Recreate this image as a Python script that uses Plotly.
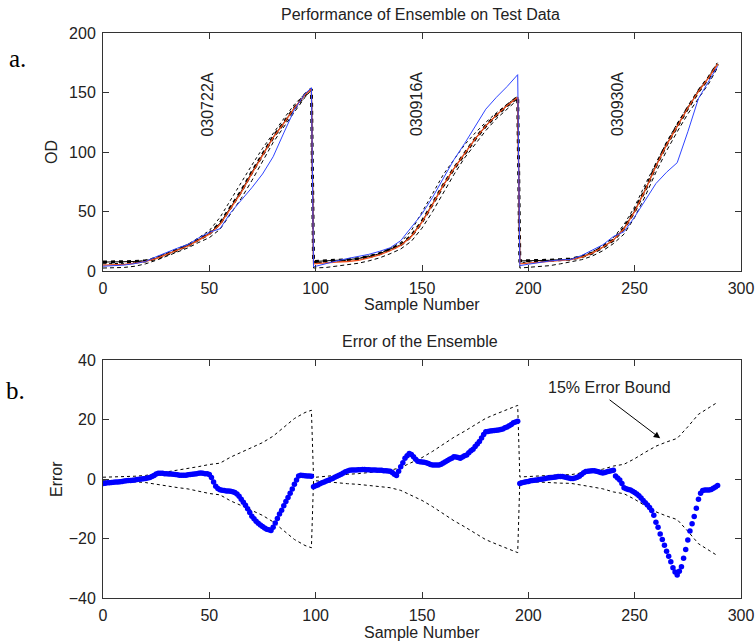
import plotly.graph_objects as go

# ---------------- data ----------------
# coarse sample grid for the curves of panel a (three test runs, concatenated)
X_RUN1 = [0, 5, 10, 15, 20, 25, 30, 35, 40, 45, 50, 55, 60, 65, 70, 75, 80, 85, 90, 95, 98]
X_RUN2 = [99, 105, 110, 115, 120, 125, 130, 135, 140, 145, 150, 155, 160, 165, 170, 175, 180, 185, 190, 195]
X_RUN3 = [196, 200, 205, 210, 215, 220, 225, 230, 235, 240, 245, 250, 255, 260, 265, 270, 275, 280, 285, 289]

# measured OD (blue)
ACTUAL_1 = [4, 4.2, 5, 6.2, 8, 12, 15.8, 19.2, 22.3, 27.8, 32.5, 35.5, 49, 59.5, 70, 81.5, 96, 116, 135.5, 149, 154]
ACTUAL_2 = [3.5, 6.5, 8.5, 10.5, 12, 14, 16.5, 19.5, 25.5, 37, 48, 62, 78, 93.5, 107, 122, 136, 146, 155, 165]
ACTUAL_3 = [4.5, 5.7, 7.3, 8.4, 9.3, 9.7, 13, 17.8, 22, 29, 33, 45.5, 60, 73.5, 83, 91, 117, 145, 160, 172]

# ensemble prediction (red)
ENSEMBLE_1 = [5, 5, 5.5, 6.5, 8, 10.5, 14, 17.5, 21, 26, 31, 39, 53, 66, 82, 97, 112, 124, 137, 148, 153]
ENSEMBLE_2 = [6, 7, 7.5, 8, 9, 11, 13.5, 17, 21.5, 29, 41, 56, 72, 86, 99, 111, 122, 131, 139, 146]
ENSEMBLE_3 = [6, 6.5, 7.5, 8, 8.5, 9.5, 11.5, 15, 20, 26, 35.5, 50, 68, 88, 106, 122, 137, 151, 163, 174]

# individual networks (black)
NET_A_1 = [7.5, 7.5, 7.5, 8, 8.5, 10.5, 14, 17.5, 21.5, 26.5, 31.5, 40, 54, 67, 83, 98, 112.5, 124.5, 137, 148, 153]
NET_A_2 = [8, 8.5, 9, 9.5, 10.5, 12, 14.5, 18, 22, 29.5, 41.5, 56.5, 72, 86, 99, 111, 122, 131, 139, 146]
NET_A_3 = [8.5, 8.5, 9, 9, 9.5, 10, 12, 15, 20, 26, 36, 50.5, 68.5, 88.5, 106.5, 122, 137, 151, 163, 174]

NET_B_1 = [6, 6, 6.5, 7.5, 9, 11.5, 15, 18.5, 22.5, 28, 34, 45, 60, 74, 89, 103, 116, 128, 140, 149, 153]
NET_B_2 = [7, 7.5, 8, 9, 10.5, 12.5, 15, 19, 24, 34, 49, 65, 81, 94, 106, 116, 125, 133, 140, 147]
NET_B_3 = [7, 7.5, 8, 8.5, 9, 10, 12.5, 16, 21.5, 28, 39, 54, 73, 91, 108, 124, 138, 152, 164, 175]

NET_C_1 = [2.5, 2.5, 3, 4, 6, 9, 12.5, 16, 19.5, 24, 28, 35, 48, 61, 76, 92, 108, 121, 134, 146, 152]
NET_C_2 = [2.5, 3, 4, 5, 6.5, 8.5, 11, 14.5, 18.5, 25, 36, 50, 66, 81, 95, 107, 118, 128, 136, 144]
NET_C_3 = [2.5, 3, 3.5, 4.5, 6, 7.5, 9.5, 12.5, 17, 23, 31, 45, 63, 83, 101, 117, 132, 145, 158, 171]

RUN_LABELS = ["030722A", "030916A", "030930A"]
RUN_LABEL_X = [49, 147.5, 242]
RUN_LABEL_Y = [140, 140, 140]

# ensemble error, one value per sample (panel b)
ERROR_RUN1 = [
    -1.5, -1.4, -1.3, -1.3, -1.2, -1.1, -1.0, -1.0, -0.9, -0.8,
    -0.7, -0.6, -0.5, -0.5, -0.4, -0.3, -0.2, -0.1, 0.0, 0.1,
    0.2, 0.3, 0.5, 0.8, 1.2, 1.7, 1.9, 1.9, 1.9, 1.8,
    1.8, 1.7, 1.7, 1.6, 1.5, 1.4, 1.3, 1.3, 1.3, 1.3,
    1.4, 1.5, 1.6, 1.7, 1.8, 1.9, 2.0, 1.9, 1.8, 1.8,
    1.5, 0.5, -1.0, -2.4, -3.2, -3.6, -3.8, -3.9, -4.0, -4.0,
    -4.1, -4.3, -4.5, -5.0, -5.8, -6.8, -7.8, -8.8, -10.0, -11.3,
    -12.5, -13.4, -14.2, -14.9, -15.5, -16.0, -16.5, -16.9, -17.1, -17.3,
    -16.2, -14.8, -13.3, -11.8, -10.5, -9.0, -7.6, -6.2, -4.8, -3.4,
    -1.8, -0.3, 1.0, 1.3, 1.2, 1.1, 1.0, 1.0, 0.9,
]
ERROR_RUN2 = [
    -2.6, -2.3, -2.0, -1.6, -1.3, -1.0, -0.7, -0.4, -0.1, 0.2,
    0.6, 0.9, 1.3, 1.6, 2.0, 2.4, 2.7, 2.9, 3.0, 3.0,
    3.0, 3.1, 3.1, 3.2, 3.2, 3.1, 3.1, 3.0, 3.0, 3.0,
    2.9, 2.9, 2.9, 2.8, 2.8, 2.7, 2.6, 2.2, 1.6, 1.2,
    2.6, 4.1, 5.5, 7.0, 7.8, 8.6, 8.2, 7.5, 6.6, 6.0,
    5.8, 5.7, 5.6, 5.5, 5.2, 4.9, 4.7, 4.7, 4.7, 4.7,
    5.0, 5.4, 5.8, 6.2, 6.6, 7.0, 7.5, 7.4, 7.2, 7.0,
    7.4, 7.8, 8.1, 8.8, 9.5, 10.0, 10.9, 11.8, 12.6, 13.8,
    15.0, 15.9, 16.0, 16.1, 16.2, 16.3, 16.4, 16.5, 16.6, 16.8,
    17.2, 17.5, 17.9, 18.3, 18.9, 19.2, 19.4,
]
ERROR_RUN3 = [
    -1.5, -1.3, -1.1, -0.9, -0.8, -0.6, -0.5, -0.4, -0.3, -0.2,
    -0.1, 0.0, 0.2, 0.3, 0.4, 0.5, 0.6, 0.7, 0.8, 0.8,
    0.8, 0.7, 0.5, 0.3, 0.2, 0.2, 0.3, 0.6, 0.9, 1.5,
    2.1, 2.5, 2.6, 2.7, 2.8, 2.8, 2.6, 2.4, 2.2, 2.0,
    2.2, 2.4, 2.6, 2.8, 2.9, 1.0, 0.3, -0.3, -1.5, -2.9,
    -3.3, -3.5, -3.7, -4.1, -4.5, -5.0, -5.6, -6.4, -7.2, -8.0,
    -8.7, -9.6, -10.6, -12.2, -14.5, -16.2, -18.5, -20.3, -22.3, -24.3,
    -26.0, -27.8, -29.8, -31.3, -32.3, -31.0, -29.5, -26.6, -23.7, -20.5,
    -17.5, -15.0, -12.6, -9.8, -6.8, -4.8, -3.9, -3.7, -3.7, -3.7,
    -3.5, -3.1, -2.7, -2.2,
]
BOUND_FRACTION = 0.15

# ---------------- derived ----------------
X_ALL = X_RUN1 + X_RUN2 + X_RUN3
ACTUAL = ACTUAL_1 + ACTUAL_2 + ACTUAL_3
ENSEMBLE = ENSEMBLE_1 + ENSEMBLE_2 + ENSEMBLE_3
NET_A = NET_A_1 + NET_A_2 + NET_A_3
NET_B = NET_B_1 + NET_B_2 + NET_B_3
NET_C = NET_C_1 + NET_C_2 + NET_C_3
ERROR = ERROR_RUN1 + ERROR_RUN2 + ERROR_RUN3
SAMPLES = list(range(len(ERROR)))
UPPER = [BOUND_FRACTION * v for v in ACTUAL]
LOWER = [-BOUND_FRACTION * v for v in ACTUAL]

FONT = "Liberation Sans, Arial, Helvetica, sans-serif"
TXT = "#222222"
AX = "#333333"
FS = 16

# page body margin is removed (see post_script), so the figure fills the window
W, H, OFF = 756, 642, 0


def px(xp):
    return (xp - OFF) / W


def py(yp):
    return 1 - (yp - OFF) / H


fig = go.Figure()

# ---- panel a ----
fig.add_trace(go.Scatter(x=X_ALL, y=NET_B, mode="lines", xaxis="x", yaxis="y",
                         line=dict(color="black", width=1, dash="3px,3px")))
fig.add_trace(go.Scatter(x=X_ALL, y=NET_C, mode="lines", xaxis="x", yaxis="y",
                         line=dict(color="black", width=1, dash="4px,3px")))
fig.add_trace(go.Scatter(x=X_ALL, y=NET_A, mode="lines", xaxis="x", yaxis="y",
                         line=dict(color="black", width=1)))
fig.add_trace(go.Scatter(x=X_ALL, y=NET_A, mode="lines", xaxis="x", yaxis="y",
                         line=dict(color="black", width=3, dash="4px,4px")))
fig.add_trace(go.Scatter(x=X_ALL, y=ENSEMBLE, mode="lines", xaxis="x", yaxis="y",
                         line=dict(color="#f0501e", width=1.3)))
fig.add_trace(go.Scatter(x=X_ALL, y=ACTUAL, mode="lines", xaxis="x", yaxis="y",
                         line=dict(color="#2f45ff", width=1)))

# ---- panel b ----
fig.add_trace(go.Scatter(x=X_ALL, y=UPPER, mode="lines", xaxis="x2", yaxis="y2",
                         line=dict(color="black", width=1, dash="3px,3px")))
fig.add_trace(go.Scatter(x=X_ALL, y=LOWER, mode="lines", xaxis="x2", yaxis="y2",
                         line=dict(color="black", width=1, dash="3px,3px")))
fig.add_trace(go.Scatter(x=SAMPLES, y=ERROR, mode="markers", xaxis="x2", yaxis="y2",
                         marker=dict(color="#0000ff", size=5.5, line=dict(width=0))))

axis_common = dict(showline=True, linecolor=AX, linewidth=1, mirror="ticks",
                   ticks="inside", ticklen=6, tickcolor=AX, showgrid=False,
                   zeroline=False, automargin=False,
                   tickfont=dict(family=FONT, size=FS, color=TXT))

fig.update_layout(
    width=W, height=H, margin=dict(l=0, r=0, t=0, b=0, autoexpand=False),
    paper_bgcolor="white", plot_bgcolor="white", showlegend=False,
    xaxis=dict(domain=[px(103), px(741)], range=[0, 300], tickvals=[0, 50, 100, 150, 200, 250, 300],
               anchor="y", ticklabelstandoff=3, **axis_common),
    yaxis=dict(domain=[py(271), py(33)], range=[0, 200],
               tickvals=[0, 50, 100, 150, 200], anchor="x", ticklabelstandoff=3, **axis_common),
    xaxis2=dict(domain=[px(103), px(741)], range=[0, 300], tickvals=[0, 50, 100, 150, 200, 250, 300],
                anchor="y2", ticklabelstandoff=3, **axis_common),
    yaxis2=dict(domain=[py(598), py(360)], range=[-40, 40],
                tickvals=[-40, -20, 0, 20, 40], anchor="x2", ticklabelstandoff=3, **axis_common),
)

ann = []
tf = dict(family=FONT, size=FS, color=TXT)


def ptext(text, xp, yp, **kw):
    d = dict(text=text, x=px(xp), y=py(yp), xref="paper", yref="paper", showarrow=False,
             font=tf, xanchor="center", yanchor="middle")
    d.update(kw)
    ann.append(d)


ptext("Performance of Ensemble on Test Data", 420, 15)
ptext("Error of the Ensemble", 420, 342)
ptext("Sample Number", 422, 304)
ptext("Sample Number", 422, 632)
ptext("OD", 51, 152, textangle=-90)
ptext("Error", 56, 479, textangle=-90)
sf = dict(family="Liberation Serif, Times New Roman, serif", size=25, color="black")
ptext("a.", 17, 59, font=sf)
ptext("b.", 15, 390, font=sf)

for lab, lx, ly in zip(RUN_LABELS, RUN_LABEL_X, RUN_LABEL_Y):
    ann.append(dict(text=lab, x=lx, y=ly, xref="x", yref="y", textangle=-90, showarrow=False,
                    font=tf, xanchor="center", yanchor="middle"))
ann.append(dict(text="15% Error Bound", x=238, y=30.8, xref="x2", yref="y2", showarrow=False,
                font=tf, xanchor="center", yanchor="middle"))
ann.append(dict(text="", x=262, y=13.7, ax=237.5, ay=27, xref="x2", yref="y2", axref="x2", ayref="y2",
                showarrow=True, arrowhead=2, arrowsize=1.3, arrowwidth=1, arrowcolor="black"))
fig.update_layout(annotations=ann)

fig.write_html("out.html", config={"displayModeBar": False},
               post_script="document.body.style.margin='0';document.body.style.overflow='hidden';")
